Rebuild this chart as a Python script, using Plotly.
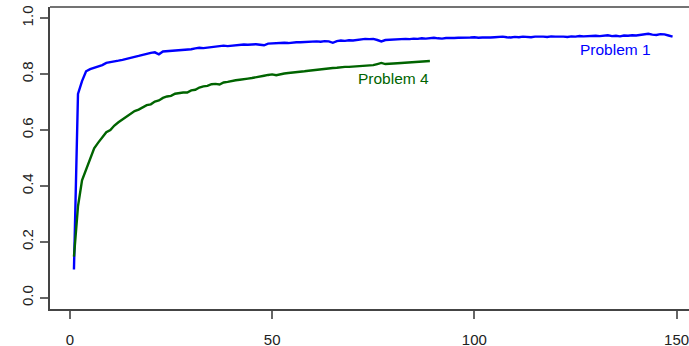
import plotly.graph_objects as go

problem1_y = [0.101, 0.729, 0.775, 0.810, 0.818, 0.822, 0.826, 0.832, 0.840, 0.842,
              0.845, 0.848, 0.851, 0.854, 0.858, 0.862, 0.865, 0.869, 0.873, 0.876,
              0.878, 0.871, 0.881, 0.882, 0.883, 0.884, 0.885, 0.886, 0.888, 0.889,
              0.892, 0.894, 0.893, 0.895, 0.897, 0.898, 0.901, 0.902, 0.900, 0.902,
              0.903, 0.904, 0.906, 0.905, 0.906, 0.907, 0.905, 0.903, 0.909, 0.910,
              0.911, 0.912, 0.912, 0.911, 0.913, 0.914, 0.914, 0.915, 0.914, 0.916,
              0.917, 0.916, 0.918, 0.917, 0.912, 0.918, 0.920, 0.919, 0.921, 0.920,
              0.922, 0.923, 0.926, 0.925, 0.926, 0.922, 0.917, 0.922, 0.923, 0.924,
              0.925, 0.924, 0.926, 0.925, 0.927, 0.926, 0.928, 0.927, 0.929, 0.930,
              0.928, 0.927, 0.929, 0.928, 0.929, 0.930, 0.930, 0.929, 0.931, 0.932,
              0.930, 0.931, 0.930, 0.931, 0.932, 0.933, 0.934, 0.932, 0.931, 0.933,
              0.932, 0.934, 0.933, 0.932, 0.934, 0.935, 0.934, 0.933, 0.935, 0.934,
              0.935, 0.934, 0.933, 0.935, 0.934, 0.936, 0.935, 0.936, 0.935, 0.937,
              0.936, 0.938, 0.939, 0.936, 0.937, 0.935, 0.938, 0.937, 0.939, 0.938,
              0.940, 0.942, 0.944, 0.941, 0.940, 0.943, 0.942, 0.938, 0.934]
problem1_x = list(range(1, len(problem1_y) + 1))

problem4_y = [0.147, 0.327, 0.420, 0.460, 0.500, 0.535, 0.555, 0.575, 0.592, 0.600,
              0.616, 0.628, 0.638, 0.647, 0.655, 0.668, 0.673, 0.682, 0.689, 0.692,
              0.702, 0.706, 0.715, 0.720, 0.722, 0.730, 0.733, 0.734, 0.734, 0.742,
              0.744, 0.752, 0.756, 0.758, 0.764, 0.765, 0.763, 0.770, 0.772, 0.776,
              0.778, 0.780, 0.781, 0.784, 0.786, 0.788, 0.790, 0.794, 0.797, 0.799,
              0.796, 0.800, 0.802, 0.804, 0.805, 0.807, 0.808, 0.810, 0.812, 0.814,
              0.816, 0.816, 0.818, 0.820, 0.822, 0.823, 0.825, 0.826, 0.826, 0.827,
              0.828, 0.829, 0.831, 0.831, 0.832, 0.836, 0.840, 0.836, 0.836, 0.838,
              0.839, 0.840, 0.841, 0.842, 0.842, 0.843, 0.845, 0.845, 0.847]
problem4_x = list(range(1, len(problem4_y) + 1))

x_ticks = [0, 50, 100, 150]
y_ticks = [0.0, 0.2, 0.4, 0.6, 0.8, 1.0]
y_tick_labels = ["0.0", "0.2", "0.4", "0.6", "0.8", "1.0"]

labels = ["Problem 1", "Problem 4"]
label_pos = [(134.8, 0.888), (80.0, 0.784)]
colors = ["#0000FF", "#006400"]

FONT = "Liberation Sans, Arial, Helvetica, sans-serif"

fig = go.Figure()
fig.add_trace(go.Scatter(x=problem1_x, y=problem1_y, mode="lines",
                         line=dict(color=colors[0], width=2.4), showlegend=False))
fig.add_trace(go.Scatter(x=problem4_x, y=problem4_y, mode="lines",
                         line=dict(color=colors[1], width=2.4), showlegend=False))

for lab, (lx, ly), c in zip(labels, label_pos, colors):
    fig.add_annotation(x=lx, y=ly, text=lab, showarrow=False,
                       font=dict(family=FONT, size=15.5, color=c),
                       xanchor="center", yanchor="middle")

# top frame line
fig.add_shape(type="line", xref="paper", yref="paper", x0=0, x1=1, y0=1, y1=1,
              line=dict(color="#444444", width=1.5))

fig.update_layout(
    width=689, height=346,
    margin=dict(l=50, r=0, t=7, b=36.5, autoexpand=False),
    paper_bgcolor="white", plot_bgcolor="white",
    font=dict(family=FONT, size=15, color="#222222"),
)
fig.update_xaxes(range=[-4.92, 153.06], tickvals=x_ticks, ticktext=[str(v) for v in x_ticks],
                 showgrid=False, zeroline=False, showline=True, linecolor="#444444", linewidth=1.5,
                 ticks="outside", ticklen=8, tickcolor="#666666", tickwidth=1.5,
                 ticklabelstandoff=8, ticklabeloverflow="allow", automargin=False)
fig.update_yaxes(range=[-0.04, 1.04], tickvals=y_ticks, ticktext=y_tick_labels, tickangle=-90,
                 showgrid=False, zeroline=False, showline=True, linecolor="#444444", linewidth=1.5,
                 ticks="outside", ticklen=8, tickcolor="#666666", tickwidth=1.5,
                 ticklabelstandoff=1, automargin=False)

fig.write_html("out.html", config={"displayModeBar": False},
               post_script="document.body.style.margin='0';document.body.style.overflow='hidden';")
